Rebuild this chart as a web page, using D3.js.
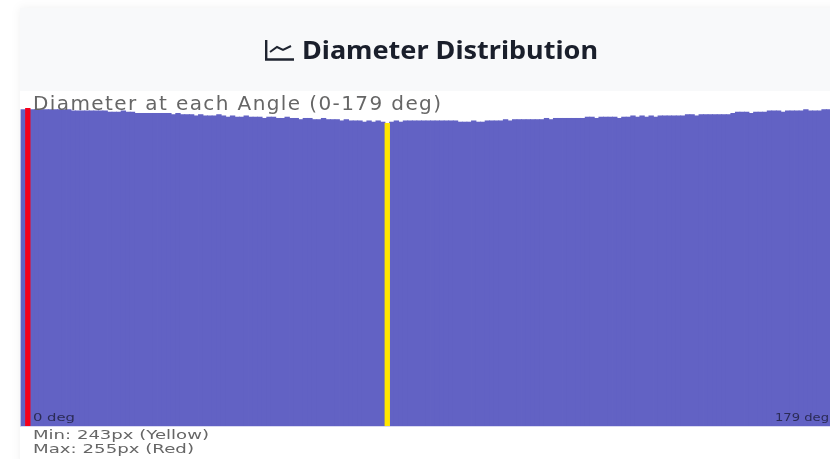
<!DOCTYPE html>
<html>
<head>
<meta charset="utf-8">
<script src="https://cdn.jsdelivr.net/npm/d3@7"></script>
<style>
  html, body { margin: 0; padding: 0; background: #fff; overflow: hidden; }
  #chart { width: 830px; height: 459px; }
  #chart svg { display: block; filter: blur(0.45px); }
</style>
</head>
<body>
<div id="chart"></div>
<script>
const titleText = 'Diameter Distribution';
const plotTitle = 'Diameter at each Angle (0-179 deg)';
const startLabel = '0 deg';
const endLabel = '179 deg';
const minLabel = 'Min: 243px (Yellow)';
const maxLabel = 'Max: 255px (Red)';

// diameter in px per angle
const diameters = [
  254, 255, 254, 254, 254, 254, 254, 254, 254, 254,
  254, 253, 253, 253, 253, 253, 253, 253, 253, 252,
  252, 252, 253, 252, 252, 251, 251, 251, 251, 251,
  251, 251, 251, 250, 251, 250, 250, 250, 249, 250,
  249, 249, 249, 250, 249, 248, 249, 248, 248, 249,
  248, 248, 248, 247, 248, 248, 247, 247, 248, 247,
  247, 246, 247, 247, 246, 246, 247, 246, 246, 246,
  245, 246, 245, 245, 245, 244, 245, 244, 245, 244,
  243, 244, 245, 244, 245, 245, 245, 245, 245, 245,
  245, 245, 245, 245, 245, 245, 244, 244, 244, 245,
  244, 244, 245, 245, 245, 245, 246, 245, 246, 246,
  246, 246, 246, 246, 246, 247, 246, 247, 247, 247,
  247, 247, 247, 247, 248, 248, 247, 248, 248, 248,
  248, 247, 248, 248, 249, 248, 249, 248, 249, 248,
  249, 249, 249, 249, 249, 249, 250, 250, 249, 250,
  250, 250, 250, 250, 250, 250, 251, 252, 252, 252,
  251, 252, 252, 252, 253, 253, 253, 252, 253, 253,
  253, 253, 254, 253, 253, 253, 254, 254, 254, 254
];
const angles = d3.range(diameters.length);

const width = 830;
const height = 459;
const plotLeft = 20;
const plotBottom = 426;
const barStep = 4.55;

const svg = d3.select('#chart')
  .append('svg')
  .attr('width', width)
  .attr('height', height);

// card with its soft edge
const defs = svg.append('defs');
const shadow = defs.append('filter').attr('id', 'cardShadow')
  .attr('x', '-5%').attr('y', '-5%').attr('width', '110%').attr('height', '110%');
shadow.append('feDropShadow')
  .attr('dx', 0).attr('dy', 0).attr('stdDeviation', 5)
  .attr('flood-color', '#000').attr('flood-opacity', 0.06);

svg.append('rect')
  .attr('x', plotLeft).attr('y', 8)
  .attr('width', width).attr('height', height)
  .attr('fill', '#f8f9fa')
  .attr('filter', 'url(#cardShadow)');

svg.append('rect')
  .attr('x', plotLeft).attr('y', 91)
  .attr('width', width).attr('height', height)
  .attr('fill', '#fff');

// title icon
const icon = svg.append('g')
  .attr('transform', 'translate(265,40)')
  .attr('fill', 'none')
  .attr('stroke', '#1f2430')
  .attr('stroke-width', 2.4);
icon.append('path').attr('d', 'M1.2,0 V19.5 H29');
icon.append('path').attr('d', 'M5,12 L12,7 L18,10 L26,6').attr('stroke-width', 2);

svg.append('text')
  .attr('x', 302)
  .attr('y', 59)
  .attr('font-family', '"Noto Sans", "Open Sans", sans-serif')
  .attr('font-size', 24.5)
  .attr('font-weight', 700)
  .attr('fill', '#1a1f2b')
  .attr('textLength', 296)
  .attr('lengthAdjust', 'spacingAndGlyphs')
  .text(titleText);

// bars
const x = d3.scaleBand()
  .domain(angles)
  .range([plotLeft + 0.6, plotLeft + 0.6 + barStep * angles.length])
  .paddingInner(0);

const y = d3.scaleLinear()
  .domain([0, 255])
  .range([plotBottom, 108]);

const minVal = d3.min(diameters);
const maxVal = d3.max(diameters);

function barColor(d) {
  if (d === maxVal) return '#f5001c';
  if (d === minVal) return '#ffe600';
  return '#6262c4';
}

// base bars first so the neighbours do not cover the highlighted ones
const order = angles.slice().sort((a, b) => {
  const rank = v => (v === maxVal || v === minVal) ? 1 : 0;
  return rank(diameters[a]) - rank(diameters[b]);
});

svg.append('g')
  .selectAll('rect')
  .data(order)
  .join('rect')
  .attr('x', i => x(i))
  .attr('y', i => y(diameters[i]))
  .attr('width', x.bandwidth() + 0.8)
  .attr('height', i => y(0) - y(diameters[i]))
  .attr('fill', i => barColor(diameters[i]));

svg.append('line')
  .attr('x1', plotLeft).attr('x2', width)
  .attr('y1', plotBottom + 0.5).attr('y2', plotBottom + 0.5)
  .attr('stroke', '#d9d9f2');

// labels burnt into the picture, thin and wide
function label(txt, lx, ly, size, w, color, adjust) {
  svg.append('text')
    .attr('x', lx)
    .attr('y', ly)
    .attr('font-family', '"DejaVu Sans", sans-serif')
    .attr('font-size', size)
    .attr('fill', color)
    .attr('textLength', w)
    .attr('lengthAdjust', adjust)
    .text(txt);
}

label(plotTitle, 33, 110, 20, 408, '#666', 'spacing');
label(startLabel, 33, 421, 10.5, 42, '#2b2b55', 'spacingAndGlyphs');
label(endLabel, 775, 421, 10.5, 54, '#2b2b55', 'spacingAndGlyphs');
label(minLabel, 33, 439, 12, 176, '#666', 'spacingAndGlyphs');
label(maxLabel, 33, 453, 12, 161, '#666', 'spacingAndGlyphs');
</script>
</body>
</html>
